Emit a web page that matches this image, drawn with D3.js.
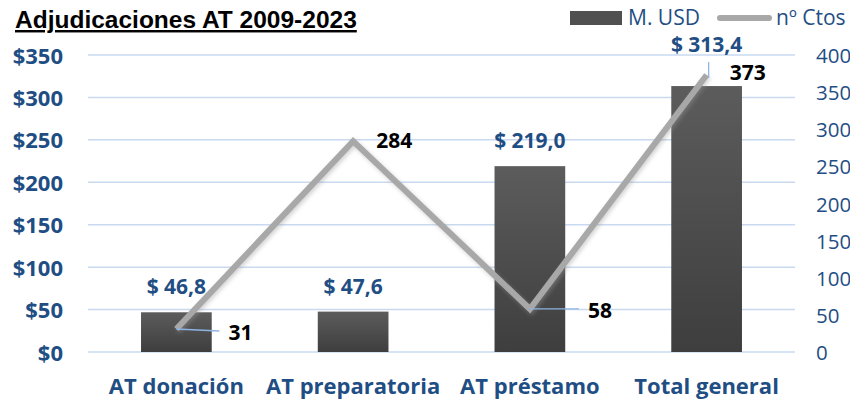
<!DOCTYPE html>
<html>
<head>
<meta charset="utf-8">
<script src="https://cdn.jsdelivr.net/npm/d3@7"></script>
<style>
  body { margin: 0; background: #fff; }
  svg { display: block; }
</style>
</head>
<body>
<div id="chart"></div>
<script>
// data
var categories = ["AT donación", "AT preparatoria", "AT préstamo", "Total general"];
var montoUSD = [46.8, 47.6, 219.0, 313.4];
var nContratos = [31, 284, 58, 373];
var leftTicks = [0, 50, 100, 150, 200, 250, 300, 350];
var rightTicks = [0, 50, 100, 150, 200, 250, 300, 350, 400];

// settings for plot area
var w = 850, h = 405;
var padLeft = 88, padRight = 795, padTop = 55, padBottom = 352;
var blue = "#1f4e84";
var font = "'Open Sans', 'Noto Sans', sans-serif";

var svg = d3.select("#chart").append("svg").attr("width", w).attr("height", h);

var defs = svg.append("defs");
var grad = defs.append("linearGradient").attr("id", "barGrad").attr("x1", 0).attr("y1", 0).attr("x2", 0).attr("y2", 1);
grad.append("stop").attr("offset", "0%").attr("stop-color", "#5c5c5c");
grad.append("stop").attr("offset", "100%").attr("stop-color", "#3e3e3e");
var blur = defs.append("filter").attr("id", "shadow").attr("x", "-10%").attr("y", "-10%").attr("width", "120%").attr("height", "120%");
blur.append("feGaussianBlur").attr("stdDeviation", 2);

// scales
var xScale = d3.scaleBand().domain(categories).range([padLeft, padRight]).paddingInner(0.6).paddingOuter(0.3);
var yLeft = d3.scaleLinear().domain([0, 350]).range([padBottom, padTop]);
var yRight = d3.scaleLinear().domain([0, 400]).range([padBottom, padTop]);
var cx = function(d) { return xScale(d) + xScale.bandwidth() / 2; };

// gridlines
svg.append("g").selectAll("line").data(leftTicks).enter().append("line")
  .attr("x1", padLeft).attr("x2", padRight)
  .attr("y1", function(d) { return yLeft(d); }).attr("y2", function(d) { return yLeft(d); })
  .attr("stroke", "#c9daf0").attr("stroke-width", 1.5);

// left axis
var yAxisL = d3.axisLeft(yLeft).tickValues(leftTicks).tickSize(0).tickPadding(0).tickFormat(function(d) { return "$" + d; });
var gL = svg.append("g").attr("transform", "translate(63,1)").call(yAxisL);
gL.select(".domain").remove();
gL.selectAll("text").attr("fill", blue).style("font-family", font).style("font-size", "22px").style("font-weight", "bold");

// right axis
var yAxisR = d3.axisRight(yRight).tickValues(rightTicks).tickSize(0).tickPadding(0);
var gR = svg.append("g").attr("transform", "translate(816,1)").call(yAxisR);
gR.select(".domain").remove();
gR.selectAll("text").attr("fill", blue).style("font-family", font).style("font-size", "20.5px");

// bars
svg.selectAll("rect.bar").data(categories).enter().append("rect").attr("class", "bar")
  .attr("x", function(d) { return xScale(d); })
  .attr("y", function(d, i) { return yLeft(montoUSD[i]); })
  .attr("width", xScale.bandwidth())
  .attr("height", function(d, i) { return padBottom - yLeft(montoUSD[i]); })
  .attr("fill", "url(#barGrad)");

// bar labels (last one pushed up by the line label)
var barLabOff = [18, 18, 18, 34];
svg.selectAll("text.blab").data(categories).enter().append("text").attr("class", "blab")
  .attr("x", cx)
  .attr("y", function(d, i) { return yLeft(montoUSD[i]) - barLabOff[i]; })
  .attr("text-anchor", "middle")
  .attr("fill", blue).style("font-family", font).style("font-size", "21px").style("font-weight", "bold")
  .text(function(d, i) { return "$ " + montoUSD[i].toFixed(1).replace(".", ","); });

// line
var line = d3.line().x(function(d) { return cx(d); }).y(function(d, i) { return yRight(nContratos[i]); });
svg.append("path").datum(categories).attr("d", line)
  .attr("fill", "none").attr("stroke", "#9a9a9a").attr("stroke-width", 6).attr("stroke-linejoin", "miter")
  .attr("transform", "translate(1.5,2)").attr("opacity", 0.45).attr("filter", "url(#shadow)");
svg.append("path").datum(categories).attr("d", line)
  .attr("fill", "none").attr("stroke", "#a8a8a8").attr("stroke-width", 6).attr("stroke-linejoin", "miter");

// line labels with leader lines
var lineLab = [
  { dx: 52, dy: 11, lx1: 0, ly1: 0, lx2: 43, ly2: 2 },
  { dx: 23, dy: 7, lx1: null },
  { dx: 58, dy: 9, lx1: 0, ly1: 0, lx2: 49, ly2: 0 },
  { dx: 23, dy: 5, lx1: 2, ly1: 3, lx2: 2, ly2: -13 }
];
categories.forEach(function(d, i) {
  var px = cx(d), py = yRight(nContratos[i]), o = lineLab[i];
  if (o.lx1 !== null) {
    svg.append("line").attr("x1", px + o.lx1).attr("y1", py + o.ly1)
      .attr("x2", px + o.lx2).attr("y2", py + o.ly2)
      .attr("stroke", "#8eb4e3").attr("stroke-width", 1.3);
  }
  svg.append("text").attr("x", px + o.dx).attr("y", py + o.dy)
    .attr("fill", "#000").style("font-family", font).style("font-size", "21px").style("font-weight", "bold")
    .text(nContratos[i]);
});

// category labels
svg.selectAll("text.cat").data(categories).enter().append("text").attr("class", "cat")
  .attr("x", cx).attr("y", 394).attr("text-anchor", "middle")
  .attr("fill", blue).style("font-family", font).style("font-size", "22px").style("font-weight", "bold")
  .text(function(d) { return d; });

// title
svg.append("text").attr("x", 15).attr("y", 28)
  .style("font-family", "'Liberation Sans', Arial, sans-serif").style("font-size", "24.5px").style("font-weight", "bold")
  .style("text-decoration", "underline").attr("fill", "#000")
  .text("Adjudicaciones AT 2009-2023");

// legend
svg.append("rect").attr("x", 570).attr("y", 11).attr("width", 52).attr("height", 14).attr("fill", "#505050");
svg.append("text").attr("x", 628).attr("y", 25).attr("fill", blue)
  .style("font-family", font).style("font-size", "21px").text("M. USD");
svg.append("line").attr("x1", 720).attr("x2", 769).attr("y1", 18).attr("y2", 18)
  .attr("stroke", "#a8a8a8").attr("stroke-width", 6).attr("stroke-linecap", "round");
svg.append("text").attr("x", 776).attr("y", 25).attr("fill", blue)
  .style("font-family", font).style("font-size", "21px").text("nº Ctos");
</script>
</body>
</html>
